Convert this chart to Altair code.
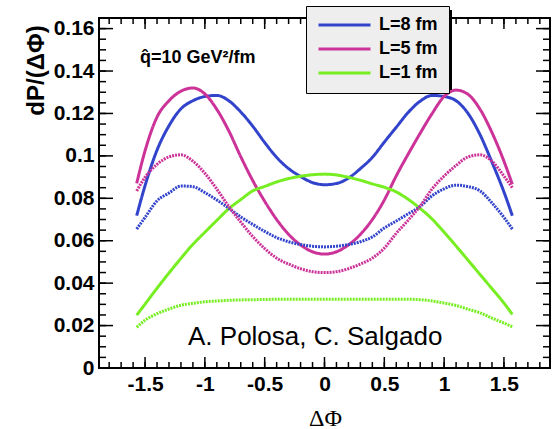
import altair as alt
import pandas as pd

# ---- data ----
x_vals = [-1.57, -1.5, -1.4, -1.3, -1.2, -1.1, -1.0, -0.9, -0.8, -0.7, -0.6, -0.5,
          -0.4, -0.3, -0.2, -0.1, 0.0, 0.1, 0.2, 0.3, 0.4, 0.5, 0.6, 0.7, 0.8, 0.9,
          1.0, 1.1, 1.2, 1.3, 1.4, 1.5, 1.57]

L8_solid = [0.0718, 0.086, 0.1027, 0.1142, 0.1222, 0.126, 0.128, 0.1285, 0.126, 0.1207,
            0.114, 0.1063, 0.0993, 0.094, 0.0903, 0.0874, 0.0864, 0.087, 0.0895, 0.094,
            0.0993, 0.1065, 0.1135, 0.1205, 0.1258, 0.1285, 0.128, 0.126, 0.12, 0.11,
            0.097, 0.083, 0.0718]
L5_solid = [0.087, 0.1024, 0.1183, 0.126, 0.1305, 0.132, 0.1292, 0.1219, 0.1118, 0.0996,
            0.0884, 0.0786, 0.0700, 0.0630, 0.0580, 0.0548, 0.0537, 0.0548, 0.058, 0.0630,
            0.0700, 0.0792, 0.0906, 0.1009, 0.1107, 0.12, 0.128, 0.131, 0.129, 0.122,
            0.111, 0.0975, 0.0866]
L1_solid = [0.0249, 0.0301, 0.0376, 0.0448, 0.0517, 0.0583, 0.064, 0.0696, 0.0751, 0.0794,
            0.0835, 0.0856, 0.0877, 0.0893, 0.0904, 0.0911, 0.0914, 0.091, 0.0899, 0.0885,
            0.0868, 0.0852, 0.0830, 0.0795, 0.0752, 0.0702, 0.064, 0.0575, 0.0508, 0.0441,
            0.0374, 0.0306, 0.0253]
L8_dotted = [0.0655, 0.071, 0.0788, 0.0825, 0.0858, 0.0855, 0.0827, 0.0792, 0.0753, 0.0712,
             0.0677, 0.0644, 0.0615, 0.0595, 0.0582, 0.0574, 0.0571, 0.0574, 0.0582, 0.0595,
             0.0618, 0.066, 0.0693, 0.0727, 0.0762, 0.0812, 0.0845, 0.0862, 0.0855, 0.0835,
             0.0778, 0.071, 0.0655]
L5_dotted = [0.0835, 0.0899, 0.096, 0.0995, 0.1005, 0.0975, 0.0918, 0.0843, 0.0762, 0.0688,
             0.062, 0.0563, 0.0518, 0.049, 0.0468, 0.0454, 0.045, 0.0454, 0.0468, 0.049,
             0.0518, 0.0565, 0.0635, 0.0697, 0.0763, 0.0845, 0.0905, 0.0955, 0.0995, 0.1005,
             0.0975, 0.0905, 0.085]
L1_dotted = [0.0192, 0.0225, 0.0256, 0.0278, 0.0296, 0.0305, 0.0312, 0.0316, 0.0319, 0.0321,
             0.0322, 0.0323, 0.0324, 0.0324, 0.0324, 0.0324, 0.0324, 0.0324, 0.0324, 0.0324,
             0.0324, 0.0324, 0.0324, 0.0324, 0.0322, 0.0316, 0.0306, 0.0295, 0.0277, 0.026,
             0.0235, 0.0212, 0.0194]

series_names = ["L=8 fm", "L=5 fm", "L=1 fm"]
series_colors = ["#3344cc", "#cc3399", "#77ee22"]

x_ticks = [-1.5, -1.0, -0.5, 0.0, 0.5, 1.0, 1.5]
y_ticks = [0.0, 0.02, 0.04, 0.06, 0.08, 0.1, 0.12, 0.14, 0.16]
x_minor = [round(-1.8 + 0.1 * i, 2) for i in range(37)]
y_minor = [round(0.005 * i, 3) for i in range(34)]

annotation_q = "q\u0302=10 GeV\u00b2/fm"
annotation_auth = "A. Polosa, C. Salgado"

# ---- build table ----
rows = []
for name, style, vals in [
    ("L=8 fm", "solid", L8_solid), ("L=5 fm", "solid", L5_solid), ("L=1 fm", "solid", L1_solid),
    ("L=8 fm", "dotted", L8_dotted), ("L=5 fm", "dotted", L5_dotted), ("L=1 fm", "dotted", L1_dotted),
]:
    for xv, yv in zip(x_vals, vals):
        rows.append({"x": xv, "y": yv, "L": name, "style": style, "key": name + style})
df = pd.DataFrame(rows)

W, H = 451, 350
XDOM = [-1.885, 1.885]
YDOM = [0, 0.165]
xs = alt.Scale(domain=XDOM, nice=False, zero=False)
ys = alt.Scale(domain=YDOM, nice=False, zero=False)
FONT = "Liberation Sans"

xaxis = alt.Axis(
    values=x_ticks, ticks=False, domain=False, grid=False,
    labelExpr="datum.value < 0 ? '-' + format(abs(datum.value), '.1~f') : format(datum.value, '.1~f')",
    labelFont=FONT, labelFontSize=21, labelFontWeight="bold", labelColor="black",
    labelPadding=5, labelFlush=False,
    title="\u0394\u03a6", titleFont="Liberation Serif", titleFontSize=24,
    titleFontWeight="normal", titleColor="black", titleX=226, titleY=50,
    titleAlign="center", titleBaseline="middle")
yaxis = alt.Axis(
    values=y_ticks, ticks=False, domain=False, grid=False, format=".2~f",
    labelFont=FONT, labelFontSize=21, labelFontWeight="bold", labelColor="black",
    labelPadding=5, labelFlush=False,
    title="dP/(\u0394\u03a6)", titleFont=FONT, titleFontSize=24,
    titleFontWeight="bold", titleColor="black", titleX=-63, titleY=52,
    titleAlign="center", titleBaseline="middle", titleAngle=270)

lines = alt.Chart(df).mark_line(strokeWidth=3, interpolate="monotone").encode(
    x=alt.X("x:Q", scale=xs, axis=xaxis),
    y=alt.Y("y:Q", scale=ys, axis=yaxis),
    color=alt.Color("L:N", scale=alt.Scale(domain=series_names, range=series_colors),
                    legend=alt.Legend(
                        title=None, orient="none", legendX=207, legendY=-12,
                        symbolType="stroke", symbolSize=2704, symbolStrokeWidth=3,
                        clipHeight=16, rowPadding=6, labelOffset=7,
                        labelFont=FONT, labelFontSize=18, labelFontWeight="bold",
                        labelColor="black", padding=11, fillColor="#eeeeee",
                        strokeColor="black")),
    strokeDash=alt.StrokeDash("style:N", scale=alt.Scale(domain=["solid", "dotted"],
                                                         range=[[1, 0], [2, 1]]), legend=None),
    detail="key:N",
)

def tick_layer(vals, orient, length):
    base = alt.Chart(pd.DataFrame({"x": vals, "y": vals})).mark_rule(color="black", strokeWidth=1.5)
    if orient == "left":
        return base.encode(y=alt.Y("y:Q", scale=ys, axis=yaxis), x=alt.value(0), x2=alt.value(length))
    if orient == "right":
        return base.encode(y=alt.Y("y:Q", scale=ys, axis=yaxis), x=alt.value(W), x2=alt.value(W - length))
    if orient == "bottom":
        return base.encode(x=alt.X("x:Q", scale=xs, axis=xaxis), y=alt.value(H), y2=alt.value(H - length))
    return base.encode(x=alt.X("x:Q", scale=xs, axis=xaxis), y=alt.value(0), y2=alt.value(length))

ticks = [
    tick_layer(y_ticks, "left", 14), tick_layer(y_minor, "left", 7),
    tick_layer(y_ticks, "right", 14), tick_layer(y_minor, "right", 7),
    tick_layer(x_ticks, "bottom", 11), tick_layer(x_minor, "bottom", 6),
    tick_layer(x_ticks, "top", 11), tick_layer(x_minor, "top", 6),
]

shadow = alt.Chart(pd.DataFrame({"a": [0]})).mark_rect(color="black").encode(
    x=alt.value(211), x2=alt.value(353), y=alt.value(-8), y2=alt.value(72))

txt_q = alt.Chart(pd.DataFrame({"t": [annotation_q]})).mark_text(
    font=FONT, fontSize=18, fontWeight="bold", align="left", baseline="middle", color="black"
).encode(text="t:N", x=alt.value(41), y=alt.value(40))

txt_a = alt.Chart(pd.DataFrame({"t": [annotation_auth]})).mark_text(
    font=FONT, fontSize=26, fontWeight="normal", align="left", baseline="alphabetic", color="black"
).encode(text="t:N", x=alt.value(89), y=alt.value(327))

chart = alt.layer(lines, *ticks, shadow, txt_q, txt_a).properties(
    width=W, height=H,
    autosize=alt.AutoSizeParams(type="none"),
    padding={"left": 99, "top": 18, "right": 4, "bottom": 61},
    background="white",
).configure_view(stroke="black", strokeWidth=2)

chart.save("out.html", embed_options={"renderer": "svg", "actions": False})
